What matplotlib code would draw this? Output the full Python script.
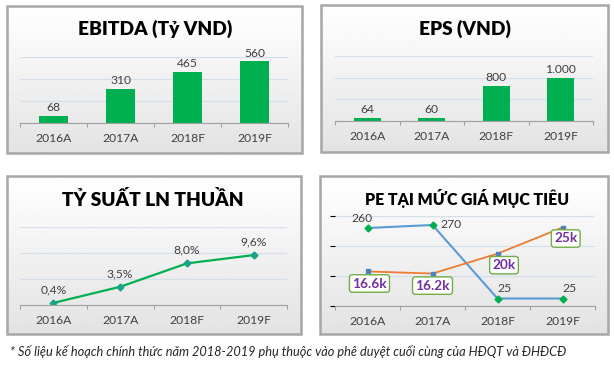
import matplotlib.pyplot as plt
import numpy as np
from matplotlib.patches import Rectangle

plt.rcParams['font.family'] = ['Lato', 'DejaVu Sans']

years = ['2016A', '2017A', '2018F', '2019F']
ebitda = [68, 310, 465, 560]
ebitda_labels = ['68', '310', '465', '560']
eps = [64, 60, 800, 1000]
eps_labels = ['64', '60', '800', '1.000']
margin = [0.4, 3.5, 8.0, 9.6]
margin_labels = ['0,4%', '3,5%', '8,0%', '9,6%']
pe = [260, 270, 25, 25]
target = [16600, 16200, 20000, 25000]
target_labels = ['16.6k', '16.2k', '20k', '25k']

W, H = 614, 367
fig = plt.figure(figsize=(W / 100, H / 100), dpi=100)

# background layer in pixel coordinates
bg = fig.add_axes([0, 0, 1, 1])
bg.set_xlim(0, W)
bg.set_ylim(H, 0)
bg.axis('off')
grad = np.linspace(1.0, 0.89, 100).reshape(-1, 1)
for x0, y0, x1, y1 in [(7, 6, 302, 153), (321, 5, 608, 152), (7, 176, 301, 334), (320, 176, 608, 334)]:
    bg.imshow(grad, cmap='gray', vmin=0, vmax=1, extent=(x0, x1, y1, y0), aspect='auto', zorder=1)
    bg.add_patch(Rectangle((x0, y0), x1 - x0, y1 - y0, fill=False, ec='#a6a6a6', lw=1.8, zorder=2))
bg.set_xlim(0, W)
bg.set_ylim(H, 0)


def panel(x0, ytop, x1, ybot):
    ax = fig.add_axes([x0 / W, 1 - ybot / H, (x1 - x0) / W, (ybot - ytop) / H])
    ax.patch.set_alpha(0)
    for s in ['top', 'right', 'left']:
        ax.spines[s].set_visible(False)
    ax.spines['bottom'].set_color('#a0a0a0')
    ax.spines['bottom'].set_linewidth(0.8)
    ax.set_xlim(-0.5, 3.5)
    ax.set_xticks([-0.5, 0.5, 1.5, 2.5, 3.5], minor=False)
    ax.set_xticklabels([])
    ax.tick_params(axis='x', which='major', length=3, color='#a0a0a0', width=0.8)
    ax.set_xticks(range(4), minor=True)
    ax.set_xticklabels(years, minor=True, fontsize=8.7, color='#404040')
    ax.tick_params(axis='x', which='minor', length=0, pad=7)
    ax.tick_params(axis='y', left=False, labelleft=False)
    ax.yaxis.grid(True, color='#d5dfe9', lw=0.9)
    ax.set_axisbelow(True)
    return ax


def title(x, y, s, size):
    fig.text(x / W, 1 - y / H, s, ha='center', va='center', fontsize=size, fontweight='heavy', color='black')


# EBITDA
ax1 = panel(20, 57, 288, 123)
ax1.bar(range(4), ebitda, width=0.42, color='#00b050')
ax1.set_ylim(0, 600)
ax1.set_yticks([0, 200, 400, 600])
for i, v in enumerate(ebitda):
    ax1.text(i, v + 25, ebitda_labels[i], ha='center', va='bottom', fontsize=8.7, color='#404040')
title(155, 29, 'EBITDA (Tỷ VND)', 13.8)

# EPS
ax2 = panel(335, 56, 593, 121)
ax2.bar(range(4), eps, width=0.42, color='#00b050')
ax2.set_ylim(0, 1500)
ax2.set_yticks([0, 500, 1000, 1500])
for i, v in enumerate(eps):
    ax2.text(i, v + 70, eps_labels[i], ha='center', va='bottom', fontsize=8.7, color='#404040')
title(465, 29, 'EPS (VND)', 13.8)

# Ty suat LN thuan
ax3 = panel(20, 227, 287, 305)
ax3.plot(range(4), margin, color='#00b050', lw=1.6, marker='D', ms=3.5, mfc='#1aa38a', mec='#1aa38a')
ax3.set_ylim(0, 15)
ax3.set_yticks([0, 5, 10, 15])
for i, v in enumerate(margin):
    ax3.text(i, v + 1.5, margin_labels[i], ha='center', va='bottom', fontsize=8.7, color='#404040')
title(153, 199, 'TỶ SUẤT LN THUẦN', 13.8)

# PE tai muc gia muc tieu
ax4 = panel(335, 216, 595, 306)
ax4.plot(range(4), pe, color='#5b9bd5', lw=1.5, marker='D', ms=3.5, mfc='#00b050', mec='#00b050', zorder=3)
ax4.set_ylim(0, 300)
ax4.set_yticks([0, 100, 200, 300])
ax4.text(-0.08, pe[0] + 12, '260', ha='center', va='bottom', fontsize=8.7, color='#404040')
ax4.text(1.12, pe[1], '270', ha='left', va='center', fontsize=8.7, color='#404040')
for i in [2, 3]:
    ax4.text(i + 0.1, pe[i] + 15, '25', ha='center', va='bottom', fontsize=8.7, color='#404040')
ax5 = ax4.twinx()
ax5.patch.set_alpha(0)
for s in ax5.spines.values():
    s.set_visible(False)
ax5.tick_params(right=False, labelright=False)
ax5.plot(range(4), target, color='#ed7d31', lw=1.3, marker='s', ms=2.8, mfc='#4f81bd', mec='#4f81bd')
ax5.set_ylim(10000, 27200)
offs = [(0.03, -2300), (0.0, -2300), (0.1, -2200), (0.05, -2100)]
for i, v in enumerate(target):
    dx, dy = offs[i]
    ax5.text(i + dx, v + dy, target_labels[i], ha='center', va='center', fontsize=9.8, fontweight='bold',
             color='#7030a0', bbox=dict(boxstyle='round,pad=0.2', fc='white', ec='#70ad47', lw=1.0))
title(467, 199, 'PE TẠI MỨC GIÁ MỤC TIÊU', 11.4)

fig.text(10 / W, 1 - 352 / H,
         '* Số liệu kế hoạch chính thức năm 2018-2019 phụ thuộc vào phê duyệt cuối cùng của HĐQT và ĐHĐCĐ',
         ha='left', va='center', fontsize=9.2, style='italic', color='#262626')

plt.savefig('out.png', dpi=100)
